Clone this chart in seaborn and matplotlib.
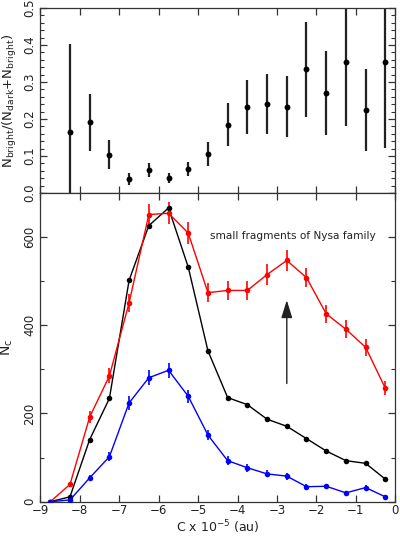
import numpy as np
import pandas as pd
import matplotlib
matplotlib.use("Agg")
import matplotlib.pyplot as plt
from matplotlib.ticker import MultipleLocator
import seaborn as sns

# ---------------- data ----------------
# bottom panel: bin centres (C x 1e-5 au)
c_bins = [-8.75, -8.25, -7.75, -7.25, -6.75, -6.25, -5.75, -5.25, -4.75,
          -4.25, -3.75, -3.25, -2.75, -2.25, -1.75, -1.25, -0.75, -0.25]
n_black = [0, 11, 141, 234, 502, 626, 666, 532, 342,
           236, 220, 187, 171, 143, 115, 93, 87, 51]
n_red = [0, 39, 192, 285, 451, 651, 654, 609, 474,
         479, 479, 515, 547, 508, 426, 391, 350, 257]
err_red = [0, 6, 14, 17, 20, 25, 25, 25, 22,
           22, 22, 23, 23, 22, 21, 20, 19, 16]
n_blue = [0, 4, 54, 102, 224, 281, 298, 239, 151,
          93, 77, 63, 58, 34, 35, 20, 32, 11]
err_blue = [0, 2, 7, 10, 15, 17, 17, 15, 12,
            10, 9, 8, 8, 6, 6, 4, 6, 3]

# top panel: bright fraction
frac_c = [-8.25, -7.75, -7.25, -6.75, -6.25, -5.75, -5.25, -4.75,
          -4.25, -3.75, -3.25, -2.75, -2.25, -1.75, -1.25, -0.75, -0.25]
frac = [0.166, 0.191, 0.103, 0.038, 0.062, 0.041, 0.065, 0.105,
        0.184, 0.232, 0.241, 0.233, 0.334, 0.271, 0.355, 0.224, 0.353]
frac_err = [0.236, 0.077, 0.039, 0.016, 0.019, 0.014, 0.020, 0.033,
            0.058, 0.073, 0.081, 0.083, 0.128, 0.114, 0.173, 0.111, 0.231]

annot_text = "small fragments of Nysa family"
annot_pos = (-2.6, 603)
arrow_x = -2.75
arrow_from, arrow_to = 268, 457

# ---------------- style ----------------
sns.set_theme(style="ticks")
plt.rcParams["font.family"] = ["DejaVu Sans"]
txt = "#222222"
plt.rcParams.update({
    "axes.edgecolor": "#333333",
    "axes.linewidth": 0.9,
    "xtick.color": "#333333",
    "ytick.color": "#333333",
    "xtick.labelcolor": txt,
    "ytick.labelcolor": txt,
    "axes.labelcolor": txt,
})

fig = plt.figure(figsize=(4.0, 5.36), dpi=100)
L, W = 0.101, 0.887
ax_top = fig.add_axes([L, 0.640, W, 0.345])
ax_bot = fig.add_axes([L, 0.064, W, 0.576])

# ---------------- top panel ----------------
df_top = pd.DataFrame({"c": frac_c, "f": frac, "e": frac_err})
ax_top.errorbar(df_top["c"], df_top["f"], yerr=df_top["e"], fmt="none",
                ecolor="#222222", elinewidth=1.6, capsize=0)
sns.scatterplot(data=df_top, x="c", y="f", ax=ax_top, color="black",
                s=18, linewidth=0, zorder=3)
ax_top.set_xlim(-9, 0)
ax_top.set_ylim(0, 0.5)
ax_top.yaxis.set_major_locator(MultipleLocator(0.1))
ax_top.yaxis.set_minor_locator(MultipleLocator(0.02))
ax_top.xaxis.set_major_locator(MultipleLocator(1))
ax_top.tick_params(axis="x", labelbottom=False)
ax_top.set_xlabel("")
ax_top.set_ylabel(r"N$_{\rm bright}$/(N$_{\rm dark}$+N$_{\rm bright}$)",
                  fontsize=9.5, labelpad=3)

# ---------------- bottom panel ----------------
df_bot = pd.DataFrame({"c": c_bins, "black": n_black, "red": n_red,
                       "err_red": err_red, "blue": n_blue, "err_blue": err_blue})
for col, colr, ecol in [("black", "black", None), ("red", "#ff0000", "err_red"),
                        ("blue", "#0000ff", "err_blue")]:
    sns.lineplot(data=df_bot, x="c", y=col, ax=ax_bot, color=colr,
                 linewidth=1.0, marker="o", markersize=4.0,
                 markeredgewidth=0, zorder=3)
    if ecol is not None:
        ax_bot.errorbar(df_bot["c"], df_bot[col], yerr=df_bot[ecol], fmt="none",
                        ecolor=colr, elinewidth=1.2, capsize=0, zorder=2)

ax_bot.set_xlim(-9, 0)
ax_bot.set_ylim(0, 700)
ax_bot.xaxis.set_major_locator(MultipleLocator(1))
ax_bot.yaxis.set_major_locator(MultipleLocator(200))
ax_bot.yaxis.set_minor_locator(MultipleLocator(100))
ax_bot.set_xlabel(r"C x 10$^{-5}$ (au)", fontsize=9)
ax_bot.xaxis.set_label_coords(0.5, -0.055)
ax_bot.set_ylabel(r"N$_{\rm c}$", fontsize=10, labelpad=6)

ax_bot.text(annot_pos[0], annot_pos[1], annot_text, ha="center", va="center",
            fontsize=7.6, color=txt)
ax_bot.annotate("", xy=(arrow_x, arrow_to), xytext=(arrow_x, arrow_from),
                arrowprops=dict(arrowstyle="-|>,head_length=0.9,head_width=0.28",
                                color="#222222", lw=1.0, shrinkA=0, shrinkB=0))

for ax in (ax_top, ax_bot):
    for s in ax.spines.values():
        s.set_visible(True)
    ax.tick_params(which="both", direction="in", top=True, right=True,
                   labelsize=8.5)
    ax.tick_params(which="major", length=5, width=0.9)
    ax.tick_params(which="minor", length=3, width=0.8)
    ax.tick_params(axis="y", pad=3)
    ax.tick_params(axis="x", pad=2)
    for lab in ax.get_yticklabels():
        lab.set_rotation(90)
        lab.set_va("center")

fig.savefig("out.png", dpi=100)
